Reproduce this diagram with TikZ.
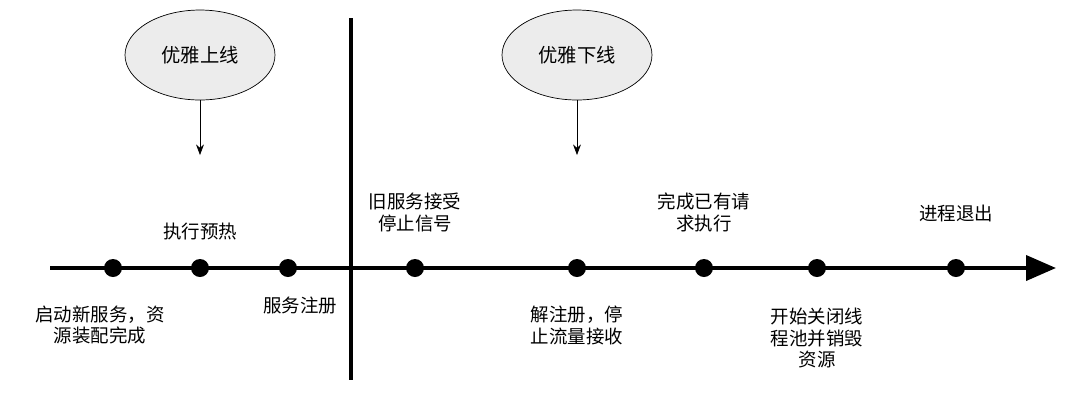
\documentclass[tikz,border=0pt]{standalone}
\usepackage{fontspec}
\setmainfont{Noto Sans CJK SC}
\usetikzlibrary{arrows.meta}
\tikzset{
  dot/.style={circle,fill=black,inner sep=0pt,minimum size=0.36cm},
  phase/.style={ellipse,draw=black,fill=gray!15,minimum width=3cm,minimum height=1.8cm,font=\fontsize{11}{13}\selectfont},
  lbl/.style={align=center,font=\fontsize{10.5}{12.5}\selectfont,inner sep=0pt}
}
\usetikzlibrary{shapes.geometric}
\begin{document}
\begin{tikzpicture}[x=0.02cm,y=-0.02cm]
    \useasboundingbox (0,0) rectangle (1080,407);

    % Timeline
    \coordinate (tstart) at (50,268);
    \coordinate (tend) at (1056,268);
    \draw[line width=2.2pt,-{Triangle[length=0.6cm,width=0.5cm]}] (tstart) -- (tend);

    % Divider
    \coordinate (dtop) at (351,18);
    \coordinate (dbot) at (351,380);
    \draw[line width=2.2pt] (dtop) -- (dbot);

    % Phases
    \node[phase] (up) at (200,55) {优雅上线};
    \node[phase] (down) at (577,55) {优雅下线};
    \coordinate (upend) at (200,155);
    \coordinate (downend) at (577,155);
    \draw[-{Stealth[length=6pt]}] (up) -- (upend);
    \draw[-{Stealth[length=6pt]}] (down) -- (downend);

    % Points on the timeline
    \foreach \x/\n in {113/d1,200/d2,288/d3,415/d4,577/d5,704/d6,817/d7,956/d8}
        \node[dot] (\n) at (\x,268) {};

    % Labels
    \node[lbl] (l1) at (100,325) {启动新服务，资\\源装配完成};
    \node[lbl] (l2) at (200,232) {执行预热};
    \node[lbl] (l3) at (300,305) {服务注册};
    \node[lbl] (l4) at (415,212) {旧服务接受\\停止信号};
    \node[lbl] (l5) at (577,325) {解注册，停\\止流量接收};
    \node[lbl] (l6) at (704,212) {完成已有请\\求执行};
    \node[lbl] (l7) at (817,338) {开始关闭线\\程池并销毁\\资源};
    \node[lbl] (l8) at (956,213) {进程退出};
\end{tikzpicture}
\end{document}
